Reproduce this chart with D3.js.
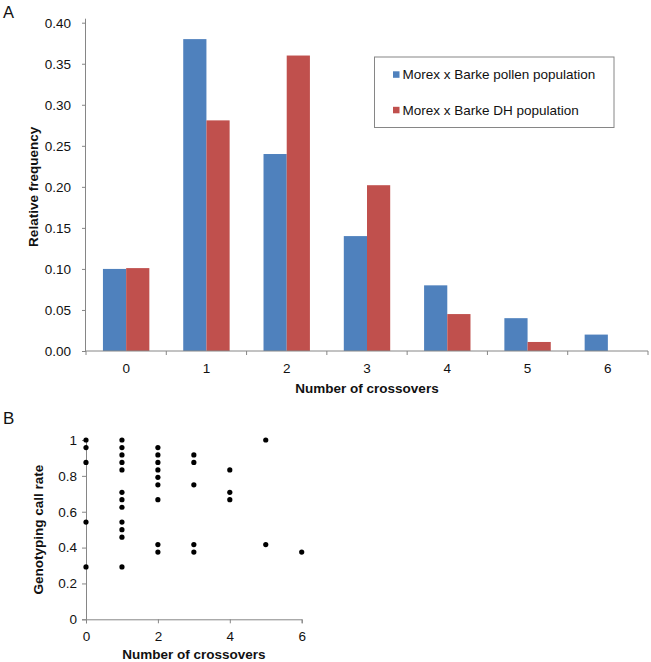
<!DOCTYPE html>
<html><head><meta charset="utf-8">
<script src="https://cdn.jsdelivr.net/npm/d3@7"></script>
<style>body{margin:0;background:#fff}svg{display:block;font-family:"Liberation Sans",Arial,sans-serif}</style>
</head><body><svg id="c" width="651" height="662"></svg>
<script>
// Panel A data
const categories = ["0","1","2","3","4","5","6"];
const seriesNames = ["Morex x Barke pollen population","Morex x Barke DH population"];
const pollen = [0.10,0.38,0.24,0.14,0.08,0.04,0.02];
const dh = [0.101,0.281,0.36,0.202,0.045,0.011,0];
const yTicksA = [0,0.05,0.10,0.15,0.20,0.25,0.30,0.35,0.40];
// Panel B data (crossovers, call rate)
const crossB = [0,0,0,0,0, 1,1,1,1,1,1,1,1,1,1,1,1, 2,2,2,2,2,2,2,2,2, 3,3,3,3,3, 4,4,4, 5,5, 6];
const callB = [1,0.958,0.875,0.542,0.292,
  1,0.958,0.917,0.875,0.833,0.708,0.667,0.625,0.542,0.5,0.458,0.292,
  0.958,0.917,0.875,0.833,0.792,0.75,0.667,0.417,0.375,
  0.917,0.875,0.75,0.417,0.375,
  0.833,0.708,0.667,
  1,0.417,
  0.375];
const xTicksB = [0,2,4,6];
const yTicksB = [0,0.2,0.4,0.6,0.8,1];

const colors = ["#4f81bd","#c0504d"];
const axisCol = "#868686";
const svg = d3.select("#c");

// ---------- Panel A ----------
const A = {l:86,r:648,t:22.7,b:351};
const x0 = d3.scaleBand().domain(categories).range([A.l,A.r]).paddingInner(0).paddingOuter(0);
const yA = d3.scaleLinear().domain([0,0.40]).range([A.b,A.t]);
const groupW = 46.4;
const x1 = d3.scaleBand().domain([0,1]).range([0,groupW]);
const gA = svg.append("g");
const seriesData = [pollen, dh];
seriesData.forEach((vals,si)=>{
  gA.selectAll(null).data(vals).enter().append("rect")
    .attr("x",(d,i)=>x0(categories[i])+(x0.bandwidth()-groupW)/2+x1(si))
    .attr("y",d=>yA(d))
    .attr("width",x1.bandwidth())
    .attr("height",d=>A.b-yA(d))
    .attr("fill",colors[si]);
});
// y axis
const yAxA = d3.axisLeft(yA).tickValues(yTicksA).tickFormat(d3.format(".2f")).tickSize(4).tickPadding(11);
const gy = gA.append("g").attr("transform",`translate(${A.l},0)`).call(yAxA);
// x axis with ticks at band boundaries
const gx = gA.append("g").attr("transform",`translate(0,${A.b})`);
gx.append("line").attr("x1",A.l).attr("x2",A.r).attr("stroke",axisCol);
const bounds = categories.map(c=>x0(c)).concat([A.r]);
gx.selectAll(null).data(bounds).enter().append("line")
  .attr("x1",d=>d).attr("x2",d=>d).attr("y1",0).attr("y2",4).attr("stroke",axisCol);
gx.selectAll(null).data(categories).enter().append("text")
  .attr("x",d=>x0(d)+x0.bandwidth()/2).attr("y",22).attr("text-anchor","middle")
  .attr("font-size",13.5).attr("fill","#111").text(d=>d);
gA.append("text").attr("x",(A.l+A.r)/2).attr("y",393).attr("text-anchor","middle")
  .attr("font-size",13.5).attr("font-weight","bold").attr("fill","#111").text("Number of crossovers");
gA.append("text").attr("transform",`translate(37.5,${(A.t+A.b)/2}) rotate(-90)`).attr("text-anchor","middle")
  .attr("font-size",13.5).attr("font-weight","bold").attr("fill","#111").text("Relative frequency");
gA.append("text").attr("x",3).attr("y",17.5).attr("font-size",16.5).attr("fill","#111").text("A");
// legend
const lg = gA.append("g");
lg.append("rect").attr("x",374.5).attr("y",57).attr("width",239.5).attr("height",70.5)
  .attr("fill","#fff").attr("stroke",axisCol);
seriesNames.forEach((n,i)=>{
  const cy = 74.5 + i*35.5;
  lg.append("rect").attr("x",393).attr("y",cy-3.2).attr("width",6.5).attr("height",6.5).attr("fill",colors[i]);
  lg.append("text").attr("x",402.5).attr("y",cy+4.6).attr("font-size",13.5).attr("fill","#111").text(n);
});

// ---------- Panel B ----------
const B = {l:86,r:301.7,t:440,b:619.3};
const xB = d3.scaleLinear().domain([0,6]).range([B.l,B.r]);
const yB = d3.scaleLinear().domain([0,1]).range([B.b,B.t]);
const gB = svg.append("g");
gB.append("g").attr("transform",`translate(${B.l},0)`)
  .call(d3.axisLeft(yB).tickValues(yTicksB).tickFormat(d=>String(d)).tickSize(4).tickPadding(5));
gB.append("g").attr("transform",`translate(0,${B.b})`)
  .call(d3.axisBottom(xB).tickValues(xTicksB).tickFormat(d=>String(d)).tickSize(4).tickPadding(8));
gB.selectAll(null).data(crossB).enter().append("circle")
  .attr("cx",d=>xB(d)).attr("cy",(d,i)=>yB(callB[i])).attr("r",2.6).attr("fill","#000");
gB.append("text").attr("x",(B.l+B.r)/2).attr("y",659).attr("text-anchor","middle")
  .attr("font-size",13.5).attr("font-weight","bold").attr("fill","#111").text("Number of crossovers");
gB.append("text").attr("transform",`translate(43,${(B.t+B.b)/2}) rotate(-90)`).attr("text-anchor","middle")
  .attr("font-size",13.5).attr("font-weight","bold").attr("fill","#111").text("Genotyping call rate");
gB.append("text").attr("x",3).attr("y",424).attr("font-size",17).attr("fill","#111").text("B");

// style axes
svg.selectAll(".domain").attr("stroke",axisCol);
svg.selectAll(".tick line").attr("stroke",axisCol);
svg.selectAll(".tick text").attr("font-size",13.5).attr("fill","#111").attr("font-family","'Liberation Sans',Arial,sans-serif");
gy.select(".domain").attr("d",`M-0.5,${A.b}V${A.t-4}`);
</script></body></html>
